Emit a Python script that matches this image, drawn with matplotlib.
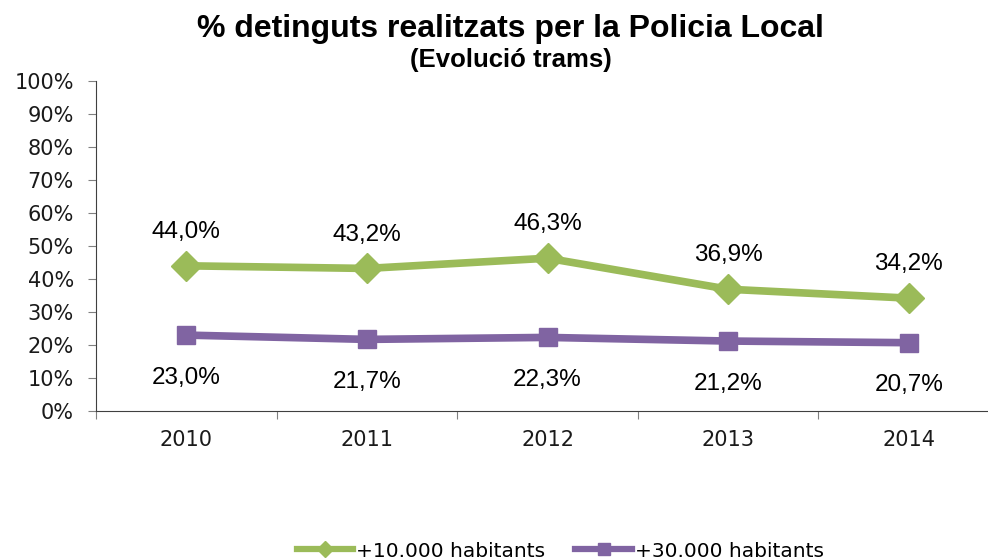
import matplotlib
matplotlib.use('Agg')
import matplotlib.pyplot as plt
from matplotlib.lines import Line2D
import numpy as np

# dades
anys = ['2010', '2011', '2012', '2013', '2014']
mes_10000 = [44.0, 43.2, 46.3, 36.9, 34.2]
mes_30000 = [23.0, 21.7, 22.3, 21.2, 20.7]
etiquetes = ['+10.000 habitants', '+30.000 habitants']

verd = '#9BBB59'
lila = '#8064A2'

fig = plt.figure(figsize=(9.88, 5.6), dpi=100)
ax = fig.add_axes([96 / 988, 149 / 560, 903 / 988, 330 / 560])

x = np.arange(len(anys))
ax.plot(x, mes_10000, color=verd, linewidth=5.5, marker='D', markersize=15,
        zorder=3)
ax.plot(x, mes_30000, color=lila, linewidth=5.5, marker='s', markersize=13,
        zorder=3)

def fmt(v):
    return f'{v:.1f}%'.replace('.', ',')

for xi, v in zip(x, mes_10000):
    ax.annotate(fmt(v), (xi, v), xytext=(0, 20), textcoords='offset points',
                ha='center', va='baseline', fontsize=17.5,
                family='Liberation Sans')
for xi, v in zip(x, mes_30000):
    ax.annotate(fmt(v), (xi, v), xytext=(0, -35), textcoords='offset points',
                ha='center', va='baseline', fontsize=17.5,
                family='Liberation Sans')

ax.set_xlim(-0.5, len(anys) - 0.5)
ax.set_ylim(0, 100)
ax.set_yticks(np.arange(0, 101, 10))
ax.set_yticklabels([f'{t}%' for t in range(0, 101, 10)], fontsize=15,
                   color='#1a1a1a')

ax.set_xticks(np.arange(-0.5, len(anys), 1.0))
ax.set_xticklabels([])
ax.set_xticks(x, minor=True)
ax.set_xticklabels(anys, minor=True, fontsize=15, color='#1a1a1a')
ax.tick_params(axis='x', which='minor', length=0, pad=14)
ax.tick_params(axis='x', which='major', length=6, color='#808080', direction='out')
ax.tick_params(axis='y', length=6, color='#808080', direction='out', pad=10)

for s in ['top', 'right']:
    ax.spines[s].set_visible(False)
ax.spines['left'].set_color('#404040')
ax.spines['bottom'].set_color('#404040')

fig.text(0.517, 0.948, '% detinguts realitzats per la Policia Local',
         ha='center', va='center', fontsize=23, fontweight='bold',
         family='Liberation Sans')
fig.text(0.517, 0.892, '(Evolució trams)', ha='center', va='center',
         fontsize=18.5, fontweight='bold', family='Liberation Sans')

handles = [
    Line2D([], [], color=verd, linewidth=4.5, marker='D', markersize=8),
    Line2D([], [], color=lila, linewidth=4.5, marker='s', markersize=8),
]
fig.legend(handles, etiquetes, loc='center', bbox_to_anchor=(0.567, 0.016),
           ncol=2, frameon=False, fontsize=14.5, handlelength=2.8,
           handletextpad=0.15, columnspacing=1.5, borderaxespad=0)

fig.savefig('out.png', dpi=100)
